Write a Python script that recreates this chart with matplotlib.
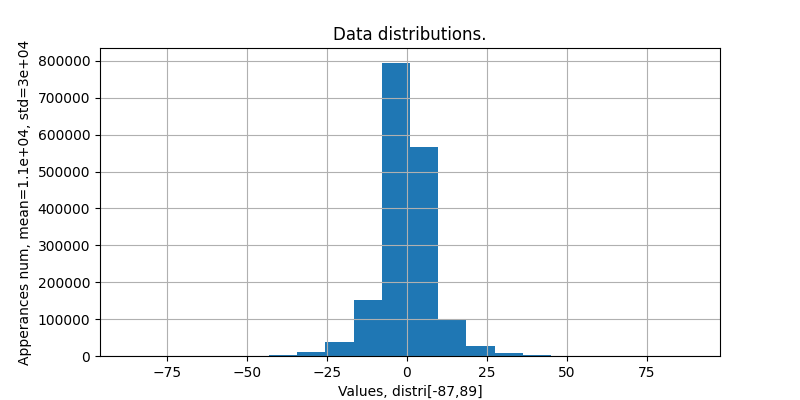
import matplotlib
matplotlib.use("Agg")
import matplotlib.pyplot as plt
import numpy as np

# Histogram: 20 bins spanning [-87, 89]
range_min = -87
range_max = 89
n_bins = 20
counts = [3, 8, 25, 80, 400, 2700, 11000, 38000, 152000, 795000,
          566000, 98000, 27000, 9000, 2700, 400, 80, 20, 6, 2]

title = "Data distributions."
xlabel = "Values, distri[-87,89]"
ylabel = "Apperances num, mean=1.1e+04, std=3e+04"

edges = np.linspace(range_min, range_max, n_bins + 1)
centers = (edges[:-1] + edges[1:]) / 2

fig, ax = plt.subplots(figsize=(8, 4), dpi=100)
ax.hist(centers, bins=edges, weights=counts, color="#1f77b4")
ax.grid(True)
ax.set_title(title)
ax.set_xlabel(xlabel)
ax.set_ylabel(ylabel)
fig.savefig("out.png", dpi=100)
